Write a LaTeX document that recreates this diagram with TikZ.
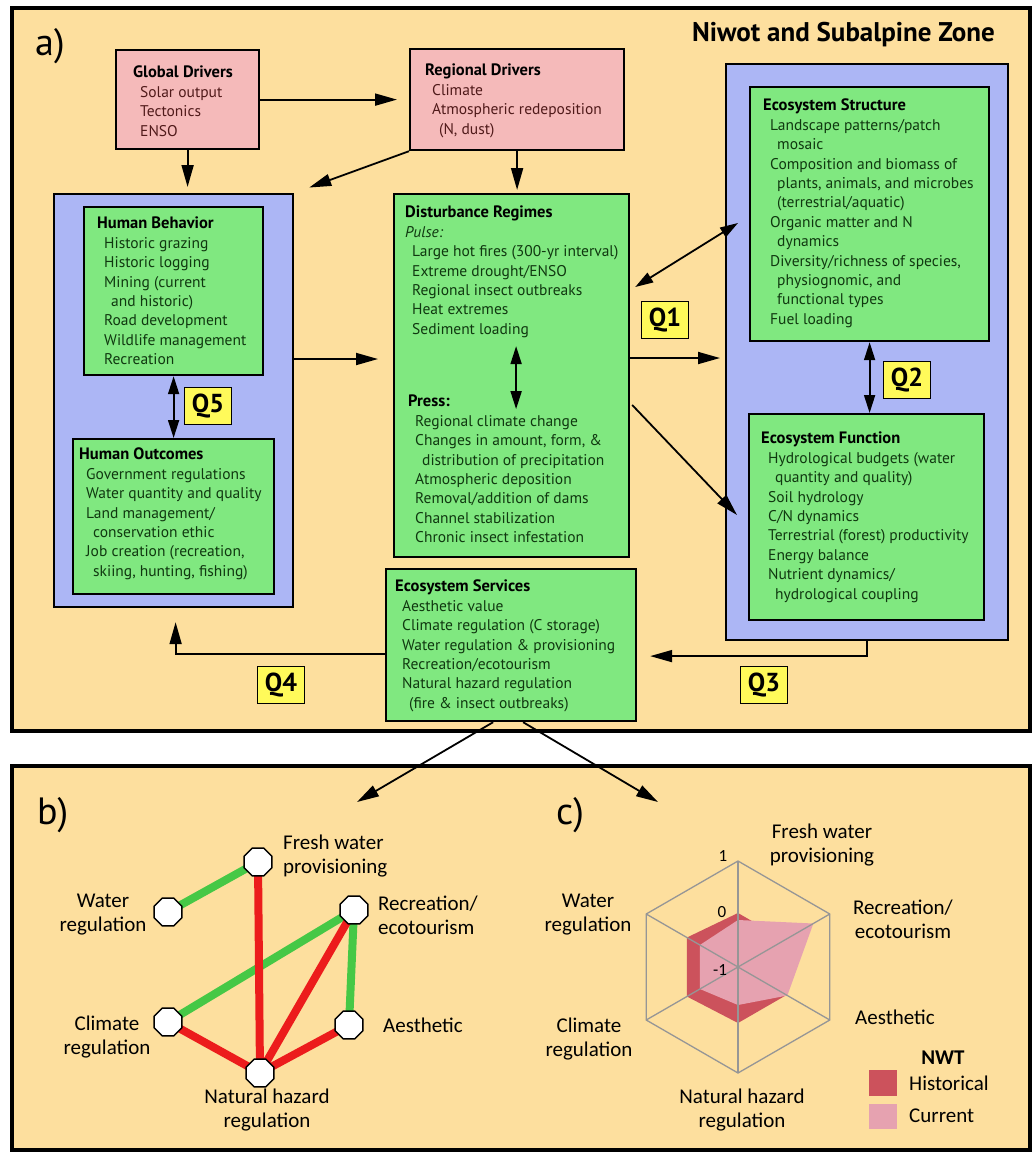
\documentclass[tikz,border=0pt]{standalone}
\usepackage{fontspec}
\setmainfont{PT Sans}
\newfontfamily\calfont{Carlito}
\usetikzlibrary{arrows.meta,positioning,calc,shapes.geometric}

\definecolor{framebg}{RGB}{253,223,158}
\definecolor{drvpink}{RGB}{245,186,186}
\definecolor{boxgreen}{RGB}{128,232,128}
\definecolor{boxblue}{RGB}{172,182,245}
\definecolor{qyellow}{RGB}{255,250,90}
\definecolor{itemgreen}{RGB}{16,56,16}
\definecolor{itemred}{RGB}{80,26,26}
\definecolor{edgegreen}{RGB}{70,200,70}
\definecolor{edgered}{RGB}{236,28,28}
\definecolor{histred}{RGB}{204,82,92}
\definecolor{currpink}{RGB}{230,162,176}
\definecolor{gridgray}{RGB}{150,150,150}

\newcommand{\boxhead}[1]{\textcolor{black}{\bfseries\fontsize{16.5}{19.4}\selectfont #1}}
\newcommand{\itm}{\hspace*{7pt}}
\newcommand{\cnt}{\hspace*{14pt}}

\pgfdeclarelayer{bg}
\pgfdeclarelayer{mid}
\pgfsetlayers{bg,mid,main}

\tikzset{
  frame/.style={draw=black, line width=4.5pt, fill=framebg},
  box/.style={draw=black, line width=2.2pt, anchor=north west, inner sep=0pt},
  pinkbox/.style={box, fill=drvpink},
  greenbox/.style={box, fill=boxgreen},
  bluebox/.style={box, fill=boxblue},
  txt/.style={anchor=north west, inner sep=0pt, align=left, text=itemgreen,
    font=\fontsize{15.5}{19.4}\selectfont},
  qbox/.style={draw=black, line width=1.8pt, fill=qyellow, inner sep=0pt,
    minimum width=47pt, minimum height=37pt, font=\bfseries\fontsize{26}{28}\selectfont},
  arr/.style={line width=1.8pt, -{Triangle[length=22pt,width=12pt]}},
  dbl/.style={line width=1.8pt, {Triangle[length=18pt,width=11pt]}-{Triangle[length=18pt,width=11pt]}},
  octa/.style={regular polygon, regular polygon sides=8, minimum size=30pt, inner sep=0pt,
    draw=black, line width=1.5pt, fill=white},
  greenedge/.style={line width=8pt, edgegreen},
  rededge/.style={line width=8pt, edgered},
  lbl/.style={inner sep=0pt, align=center, font=\calfont\fontsize{21}{24}\selectfont},
  grid/.style={gridgray, line width=1.3pt},
  panel/.style={inner sep=0pt, anchor=west, font=\fontsize{38}{40}\selectfont},
}

\begin{document}
\begin{tikzpicture}[x=1pt,y=-1pt]
\useasboundingbox (0,0) rectangle (1036,1152);

% panel frames
\begin{pgfonlayer}{bg}
\draw[frame] (12,8) rectangle (1030,731);
\draw[frame] (12,766) rectangle (1030,1150);
\end{pgfonlayer}

\node[panel] (la) at (35,46) {a)};
\node[inner sep=0pt, anchor=west, font=\bfseries\fontsize{27}{30}\selectfont] (title) at (692,35) {Niwot and Subalpine Zone};

% boxes of panel a
\node[pinkbox, minimum width=143pt, minimum height=99pt] (global) at (115,49) {};
\node[pinkbox, minimum width=214pt, minimum height=101pt] (regional) at (409,48) {};
\node[bluebox, minimum width=239pt, minimum height=413pt] (human) at (53,193) {};
\node[greenbox, minimum width=179pt, minimum height=168pt] (hb) at (83,206) {};
\node[greenbox, minimum width=201pt, minimum height=155pt] (ho) at (72,438) {};
\node[greenbox, minimum width=235pt, minimum height=363pt] (dist) at (393,193) {};
\node[bluebox, minimum width=282pt, minimum height=576pt] (ecosys) at (725,63) {};
\node[greenbox, minimum width=239pt, minimum height=254pt] (estruct) at (749,86) {};
\node[greenbox, minimum width=235pt, minimum height=206pt] (efunc) at (748,413) {};
\node[greenbox, minimum width=250pt, minimum height=152pt] (eserv) at (385,568) {};

% box texts
\node[txt, text=itemred] (globaltxt) at (133,66) {\boxhead{Global Drivers}\\\itm Solar output\\\itm Tectonics\\\itm ENSO};
\node[txt, text=itemred] (regionaltxt) at (425,64) {\boxhead{Regional Drivers}\\\itm Climate\\\itm Atmospheric redeposition\\\cnt(N, dust)};
\node[txt] (hbtxt) at (97,217) {\boxhead{Human Behavior}\\\itm Historic grazing\\\itm Historic logging\\\itm Mining (current\\\cnt and historic)\\\itm Road development\\\itm Wildlife management\\\itm Recreation};
\node[txt] (hotxt) at (79,448) {\boxhead{Human Outcomes}\\\itm Government regulations\\\itm Water quantity and quality\\\itm Land management/\\\cnt conservation ethic\\\itm Job creation (recreation,\\\cnt skiing, hunting, fishing)};
\node[txt] (pulsetxt) at (405,206) {\boxhead{Disturbance Regimes}\\\textit{Pulse:}\\\itm Large hot fires (300-yr interval)\\\itm Extreme drought/ENSO\\\itm Regional insect outbreaks\\\itm Heat extremes\\\itm Sediment loading};
\node[txt] (presstxt) at (408,395) {\boxhead{Press:}\\\itm Regional climate change\\\itm Changes in amount, form, \&\\\cnt distribution of precipitation\\\itm Atmospheric deposition\\\itm Removal/addition of dams\\\itm Channel stabilization\\\itm Chronic insect infestation};
\node[txt] (estructtxt) at (763,99) {\boxhead{Ecosystem Structure}\\\itm Landscape patterns/patch\\\cnt mosaic\\\itm Composition and biomass of\\\cnt plants, animals, and microbes\\\cnt (terrestrial/aquatic)\\\itm Organic matter and N\\\cnt dynamics\\\itm Diversity/richness of species,\\\cnt physiognomic, and\\\cnt functional types\\\itm Fuel loading};
\node[txt] (efunctxt) at (761,432) {\boxhead{Ecosystem Function}\\\itm Hydrological budgets (water\\\cnt quantity and quality)\\\itm Soil hydrology\\\itm C/N dynamics\\\itm Terrestrial (forest) productivity\\\itm Energy balance\\\itm Nutrient dynamics/\\\cnt hydrological coupling};
\node[txt] (eservtxt) at (395,580) {\boxhead{Ecosystem Services}\\\itm Aesthetic value\\\itm Climate regulation (C storage)\\\itm Water regulation \& provisioning\\\itm Recreation/ecotourism\\\itm Natural hazard regulation\\\cnt (fire \& insect outbreaks)};

% question labels
\node[qbox] (q1) at (665,320) {Q1};
\node[qbox] (q2) at (907,380) {Q2};
\node[qbox] (q3) at (764,685) {Q3};
\node[qbox] (q4) at (281,685) {Q4};
\node[qbox] (q5) at (208,406) {Q5};

% connectors of panel a
\draw[arr, shorten >=12pt] (global.east) -- (regional.west);
\draw[arr, shorten >=6pt] (global.south) -- (global.south |- human.north);
\draw[arr, shorten >=16pt] (regional.south west) -- (human.north east);
\draw[arr, shorten >=3pt] (regional.south) -- (regional.south |- dist.north);
\draw[arr, shorten >=15pt] (human.east |- 0,359) -- (dist.west |- 0,359);
\draw[dbl] ($(dist.east |- 0,287)+(5,0)$) -- ($(ecosys.west |- 0,223)+(13,0)$);
\draw[arr, shorten >=5pt] (dist.east |- 0,358) -- (ecosys.west |- 0,358);
\draw[arr] ($(dist.east |- 0,405)+(2,0)$) -- ($(ecosys.west |- 0,515)+(12,0)$);
\draw[dbl] ($(dist.center)+(4.5,-29.5)$) -- ($(dist.center)+(4.5,33.5)$);
\draw[dbl] (estruct.south) -- (estruct.south |- efunc.north);
\draw[dbl] (hb.south) -- (hb.south |- ho.north);
\draw[arr] (ecosys.south) |- ($(eserv.east)+(13,11)$);
\draw[arr] (eserv.west |- 0,654) -| ($(human.south)+(2,14)$);

\coordinate (btip) at (357,802);
\coordinate (ctip) at (658,802);
\draw[arr] ($(eserv.south)+(-18,0)$) -- (btip);
\draw[arr] ($(eserv.south)+(12,0)$) -- (ctip);

% panel b: trade-off network
\node[panel] (lb) at (37,815) {b)};
\node[octa] (fresh) at (258,862) {};
\node[octa] (waterreg) at (168,912) {};
\node[octa] (recre) at (354,910) {};
\node[octa] (climreg) at (168,1022) {};
\node[octa] (aesth) at (349,1025) {};
\node[octa] (hazard) at (260,1073) {};
\begin{pgfonlayer}{mid}
\draw[greenedge] (fresh.center) -- (waterreg.center);
\draw[greenedge] (recre.center) -- (climreg.center);
\draw[greenedge] (recre.center) -- (aesth.center);
\draw[rededge] (fresh.center) -- (hazard.center);
\draw[rededge] (climreg.center) -- (hazard.center);
\draw[rededge] (recre.center) -- (hazard.center);
\draw[rededge] (aesth.center) -- (hazard.center);
\end{pgfonlayer}
\node[lbl, anchor=west, align=left] (freshlbl) at (283,856) {Fresh water\\provisioning};
\node[lbl] (waterreglbl) at (103,915) {Water\\regulation};
\node[lbl, anchor=west, align=left] (recrelbl) at (378,915) {Recreation/\\ecotourism};
\node[lbl] (climreglbl) at (107,1037) {Climate\\regulation};
\node[lbl, anchor=west] (aesthlbl) at (383,1025) {Aesthetic};
\node[lbl] (hazardlbl) at (267,1110) {Natural hazard\\regulation};

% panel c: radar chart
\node[panel] (lc) at (556,815) {c)};
\begin{scope}[shift={(738,967)}, y=1pt]
\fill[histred] (90:54) -- (30:54) -- (-30:56) -- (-90:56) -- (210:59) -- (150:59) -- cycle;
\fill[currpink] (90:47) -- (30:87) -- (-30:57) -- (-90:38) -- (210:44) -- (150:44) -- cycle;
\draw[grid] (90:106) -- (30:106) -- (-30:106) -- (-90:106) -- (210:106) -- (150:106) -- cycle;
\foreach \a in {90,30,-30,-90,210,150}
  \draw[grid] (0,0) -- (\a:106);
\end{scope}
\node[lbl, font=\calfont\fontsize{17}{20}\selectfont] (ax1) at (723,856) {1};
\node[lbl, font=\calfont\fontsize{17}{20}\selectfont] (ax0) at (722,912) {0};
\node[lbl, font=\calfont\fontsize{17}{20}\selectfont] (axm) at (720,970) {-1};
\node[lbl] (cfresh) at (822,845) {Fresh water\\provisioning};
\node[lbl] (cwater) at (588,915) {Water\\regulation};
\node[lbl] (crecre) at (903,919) {Recreation/\\ecotourism};
\node[lbl] (caesth) at (895,1017) {Aesthetic};
\node[lbl] (cclim) at (589,1039) {Climate\\regulation};
\node[lbl] (chazard) at (742,1110) {Natural hazard\\regulation};

% legend
\node[lbl, font=\calfont\bfseries\fontsize{21}{24}\selectfont] (nwt) at (943,1058) {NWT};
\node[fill=histred, minimum width=28pt, minimum height=26pt, inner sep=0pt, anchor=north west] (histkey) at (869,1070) {};
\node[fill=currpink, minimum width=28pt, minimum height=25pt, inner sep=0pt, anchor=north west] (currkey) at (869,1104) {};
\node[lbl, anchor=west] (histlbl) at (909,1083) {Historical};
\node[lbl, anchor=west] (currlbl) at (909,1116) {Current};
\end{tikzpicture}
\end{document}
